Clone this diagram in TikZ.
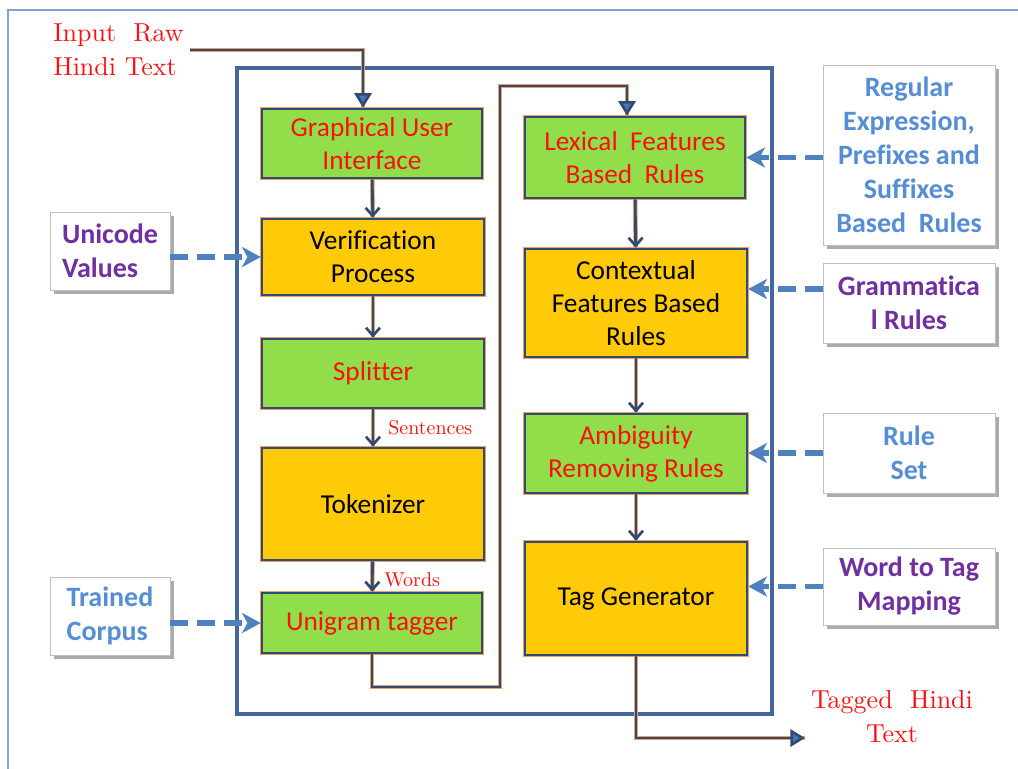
\documentclass[tikz,border=0pt]{standalone}
\usepackage{fontspec}
\newfontfamily\calib[RawFeature={-liga;-clig;-calt;-dlig}]{Carlito}
\newfontfamily\lmten{lmroman10-regular.otf}
\usetikzlibrary{arrows.meta,shadows,calc}

\definecolor{framecol}{HTML}{86A2CC}
\definecolor{holder}{HTML}{43679C}
\definecolor{wirenavy}{HTML}{2F4B74}
\definecolor{glow}{HTML}{E9A064}
\definecolor{tipblue}{HTML}{4677B4}
\definecolor{feedblue}{HTML}{4F81BD}
\definecolor{boxgreen}{HTML}{92DE4A}
\definecolor{boxgold}{HTML}{FFCA08}
\definecolor{sideblue}{HTML}{558ED5}
\definecolor{sidepurple}{HTML}{7030A0}
\definecolor{labelred}{HTML}{FA1010}

\begin{document}
\begin{tikzpicture}[x=0.75pt,y=-0.75pt,
  boxsize/.style 2 args={minimum width=#1*0.75pt, minimum height=#2*0.75pt},
  proc/.style={draw=wirenavy, line width=1.9pt,
    preaction={draw=glow, line width=3.3pt},
    font=\calib\fontsize{20.5}{24.75}\selectfont, align=center, inner sep=0pt},
  greenbox/.style={proc, fill=boxgreen, text=labelred},
  goldbox/.style={proc, fill=boxgold, text=black},
  side/.style={draw=black!25, line width=0.6pt, fill=white,
    drop shadow={shadow xshift=3pt, shadow yshift=-3pt, fill=black!60, opacity=0.55},
    font=\calib\bfseries\fontsize{21}{25.5}\selectfont, align=center, inner sep=0pt},
  lbl/.style={text=labelred, inner sep=0pt},
  wire/.style={draw=wirenavy, line width=2pt,
    preaction={draw=glow, line width=3.4pt, arrows=-}},
  barb/.style={-{Straight Barb[length=6pt,width=10.5pt]}},
  tri/.style={-{Triangle[length=11pt,width=13pt,fill=tipblue]}},
  feed/.style={draw=feedblue, line width=3.8pt, dash pattern=on 13.5pt off 6.75pt,
    -{Stealth[length=14pt,width=15pt,inset=4pt]}}
]
\useasboundingbox (0,0) rectangle (1018,768);
\fill[white] (0,0) rectangle (1018,768);

% slide frame
\draw[framecol, line width=0.8pt] (8,775) -- (8,10) -- (1025,10);

% container of the tagger
\draw[holder, line width=2.4pt] (237,68) rectangle (772,714);

% left column
\node[greenbox, boxsize={220}{69}] (gui) at (372,143.5) {Graphical User\\Interface};
\node[goldbox, boxsize={222}{76}] (verif) at (373,257) {Verification\\Process};
\node[greenbox, boxsize={222}{69}] (split) at (373,373.5) {Splitter};
\node[goldbox, boxsize={222}{112}] (tok) at (373,504) {Tokenizer};
\node[greenbox, boxsize={220}{60}] (uni) at (372,623) {Unigram tagger};

% right column
\node[greenbox, boxsize={220}{81}] (lex) at (635,157.5) {Lexical\ \ Features\\Based\ \ Rules};
\node[goldbox, boxsize={222}{108}] (ctx) at (636,303) {Contextual\\Features Based\\Rules};
\node[greenbox, boxsize={222}{79}] (amb) at (636,453.5) {Ambiguity\\Removing Rules};
\node[goldbox, boxsize={222}{113}] (tag) at (636,598.5) {Tag Generator};

% knowledge sources
\node[side, text=sideblue, boxsize={172}{180}] (regex) at (909,155)
  {Regular\\Expression,\\Prefixes and\\Suffixes\\Based\ \ Rules};
\node[side, text=sidepurple, boxsize={172}{80}] (gram) at (909,303) {Grammatica\\l Rules};
\node[side, text=sideblue, boxsize={172}{80}] (ruleset) at (909,453) {Rule\\Set};
\node[side, text=sidepurple, boxsize={172}{77}] (w2t) at (909,586.5) {Word to Tag\\Mapping};
\node[side, text=sidepurple, boxsize={120}{78}, align=left] (unicode) at (110,251) {Unicode\\Values};
\node[side, text=sideblue, boxsize={120}{78}, align=left] (trained) at (110,616) {Trained\\Corpus};

% input and output labels
\node[lbl, anchor=west, align=left, font=\lmten\fontsize{19.5}{25.5}\selectfont] (inlabel) at (53,50)
  {Input\ \ Raw\\Hindi Text};
\node[lbl, align=center, font=\lmten\fontsize{19.5}{25.5}\selectfont] (outlabel) at (892,717)
  {Tagged\ \ Hindi\\Text};
\coordinate (src) at (190,50);
\coordinate (dst) at (805,738);

% main flow
\draw[wire, tri] (src) -| ($(gui.north)+(-9,0)$);
\draw[wire, barb] (gui) -- (verif);
\draw[wire, barb] (verif) -- (split);
\draw[wire, barb] (split) -- (tok);
\draw[wire, barb] (tok) -- (uni);
\draw[wire, tri] (uni.south) |- (500,687) -- (500,86) -| ($(lex.north)+(-8,0)$);
\draw[wire, barb] (lex) -- (ctx);
\draw[wire, barb] (ctx) -- (amb);
\draw[wire, barb] (amb) -- (tag);
\draw[wire, tri] (tag.south) |- (dst);

\node[lbl, anchor=west, font=\lmten\fontsize{15}{18}\selectfont] (sent) at (388,428) {Sentences};
\node[lbl, anchor=west, font=\lmten\fontsize{15}{18}\selectfont] (words) at (384,580) {Words};

% knowledge feeds
\draw[feed] (unicode.east |- verif.west) -- (verif.west);
\draw[feed] (trained.east |- uni.west) -- (uni.west);
\draw[feed] (regex.west |- lex.east) -- (lex.east);
\draw[feed] ($(gram.west)+(0,-14)$) -- ($(ctx.east)+(0,-14)$);
\draw[feed] (ruleset.west) -- (ruleset.west -| amb.east);
\draw[feed] (w2t.west) -- (w2t.west -| tag.east);
\end{tikzpicture}
\end{document}
